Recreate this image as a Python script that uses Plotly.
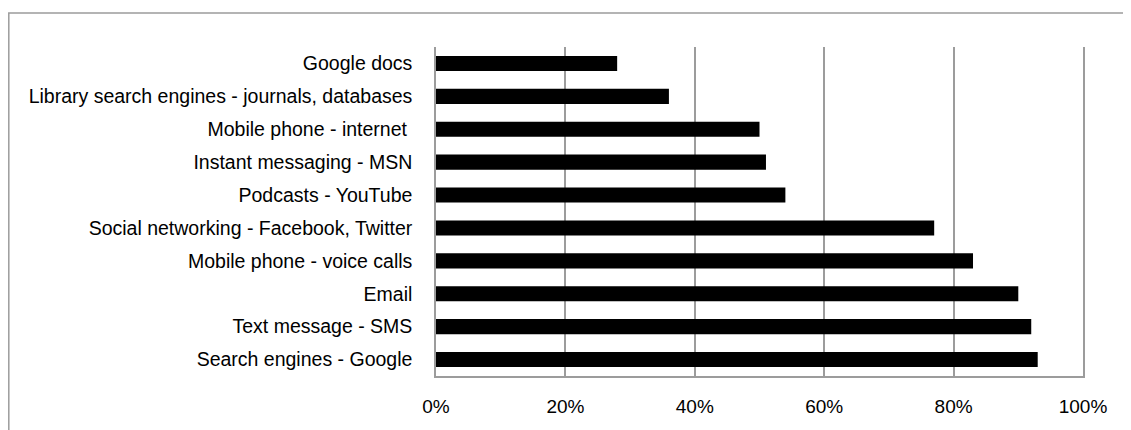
import plotly.graph_objects as go

categories = [
    "Google docs",
    "Library search engines - journals, databases",
    "Mobile phone - internet\u00a0",
    "Instant messaging - MSN",
    "Podcasts - YouTube",
    "Social networking - Facebook, Twitter",
    "Mobile phone - voice calls",
    "Email",
    "Text message - SMS",
    "Search engines - Google",
]
values = [28, 36, 50, 51, 54, 77, 83, 90, 92, 93]
x_tick_vals = [0, 20, 40, 60, 80, 100]
x_tick_text = ["0%", "20%", "40%", "60%", "80%", "100%"]

# the page body adds an 8px margin, so the figure starts at (8, 8)
W, H = 1123, 422
ML, MR, MT, MB = 428, 48, 39, 54
PW = W - ML - MR
PH = H - MT - MB

FONT = "Liberation Sans, Arial, sans-serif"
GRID = "#9c9c9c"

fig = go.Figure(
    go.Bar(
        x=values,
        y=categories,
        orientation="h",
        marker=dict(color="black", line=dict(width=0)),
        hoverinfo="x+y",
    )
)

def px_x(p):
    return (p - ML) / PW

def px_y(p):
    return (H - MB - p) / PH

fig.add_shape(
    type="rect",
    xref="paper", yref="paper",
    x0=px_x(0.8), x1=px_x(W + 20),
    y0=px_y(H + 20), y1=px_y(5),
    line=dict(color=GRID, width=1.5),
    fillcolor="rgba(0,0,0,0)",
    layer="below",
)

fig.update_layout(
    width=W, height=H,
    margin=dict(l=ML, r=MR, t=MT, b=MB, pad=0, autoexpand=False),
    paper_bgcolor="white",
    plot_bgcolor="white",
    bargap=0.54,
    showlegend=False,
    font=dict(family=FONT, size=19.5, color="black"),
    xaxis=dict(
        range=[0, 100],
        tickvals=x_tick_vals,
        ticktext=x_tick_text,
        showgrid=True,
        gridcolor=GRID,
        gridwidth=1.5,
        zeroline=False,
        showline=True,
        linecolor=GRID,
        linewidth=1.5,
        ticks="outside",
        ticklen=12,
        tickcolor="rgba(0,0,0,0)",
        tickfont=dict(family=FONT, size=19, color="black"),
        automargin=False,
        fixedrange=True,
    ),
    yaxis=dict(
        autorange="reversed",
        showgrid=False,
        zeroline=False,
        showline=True,
        mirror=True,
        linecolor=GRID,
        linewidth=1.5,
        ticks="outside",
        ticklen=18,
        tickcolor="rgba(0,0,0,0)",
        tickfont=dict(family=FONT, size=19.5, color="black"),
        automargin=False,
        fixedrange=True,
    ),
)

fig.write_html("out.html", config={"displayModeBar": False})
